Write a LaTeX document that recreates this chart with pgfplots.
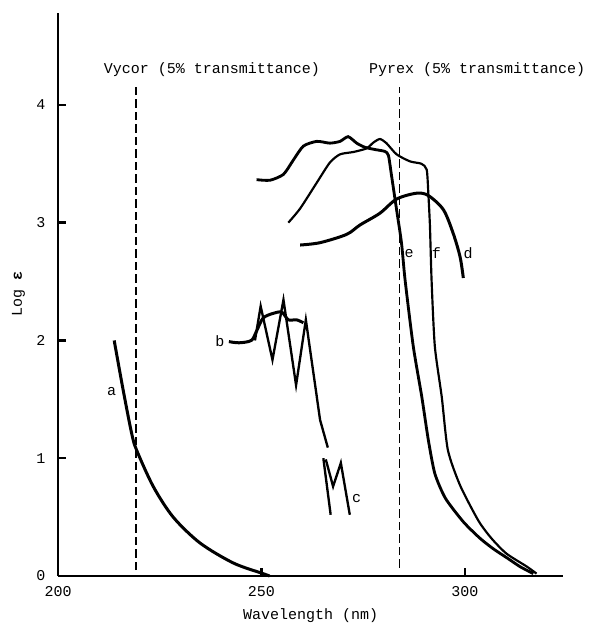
\documentclass[border=0pt]{standalone}
\usepackage{pgfplots}
\pgfplotsset{compat=1.18}
\usepackage{fontspec}
\setmainfont{Liberation Mono}
\begin{document}
\begin{tikzpicture}
\begin{axis}[scale only axis,width=303pt,height=337.8pt,
  xmin=200,xmax=324.1,ymin=0,ymax=4.78,
  axis lines=left,axis line style={-,line width=1.4pt},
  xtick={200,250,300},ytick={0,1,2,3,4},
  tick align=inside,major tick length=5pt,tick style={line width=1.4pt,black},
  font=\fontsize{9}{11}\selectfont,
  yticklabel style={xshift=-4pt},xticklabel style={yshift=-3pt},
  /pgf/number format/assume math mode=true,
  xlabel={Wavelength (nm)},ylabel={Log \textbf{ε}},
  clip=false]
% glass cut-offs
\addplot[line width=0.8pt,dash pattern=on 5pt off 2.5pt] coordinates {(219.2,0.05)(219.2,4.16)};
\addplot[line width=0.8pt,dash pattern=on 5pt off 2.5pt] coordinates {(283.9,0.07)(283.9,4.15)};
\node at (axis cs:237.8,4.30) {Vycor (5\% transmittance)};
\node at (axis cs:303.0,4.30) {Pyrex (5\% transmittance)};
% a
\addplot[line width=1.8pt,smooth] coordinates {(213.8,2.0)(216.0,1.58)(218.1,1.21)(219.3,1.07)(223.4,0.76)(228.3,0.50)(234.9,0.28)(243.1,0.11)(250.4,0.02)(252,0.0)};
% b
\addplot[line width=1.8pt,smooth] coordinates {(242.0,1.99)(244.5,1.98)(247.5,2.0)(248.8,2.08)(250.4,2.19)(252.9,2.23)(255.0,2.24)(256.6,2.175)(258.6,2.175)(260.3,2.15)};
% c
\addplot[line width=1.4pt] coordinates {(248.4,2.0)(249.8,2.29)(252.7,1.835)(255.4,2.345)(258.5,1.62)(260.9,2.175)(264.4,1.325)(266.3,1.09)};
\addplot[line width=1.4pt] coordinates {(265.2,1.0)(267.0,0.52)};
\addplot[line width=1.4pt] coordinates {(265.8,0.99)(267.6,0.76)(269.5,0.96)(271.7,0.52)};
% d
\addplot[line width=1.8pt,smooth] coordinates {(259.5,2.81)(264.4,2.83)(270.9,2.90)(274.2,2.98)(279.1,3.08)(283.2,3.20)(288.1,3.25)(291.0,3.23)(294.7,3.11)(297.1,2.91)(298.8,2.71)(299.6,2.53)};
% e
\addplot[line width=1.7pt,smooth,tension=0.4] coordinates {(248.8,3.365)(252.1,3.36)(255.4,3.41)(257.8,3.53)(260.3,3.65)(263.6,3.69)(266.8,3.675)(269.3,3.69)(271.3,3.73)(273.4,3.675)(275.4,3.64)(278,3.62)(280.3,3.605)(281.2,3.57)(282.0,3.39)(283.2,3.11)(284.4,2.83)(285.3,2.51)(287.3,1.95)(289.4,1.52)(291.0,1.155)(292.6,0.87)(295.2,0.66)(299.6,0.46)(303.7,0.32)(307.0,0.23)(310.5,0.15)(313.5,0.08)(316.8,0.02)};
% f
\addplot[line width=1.3pt,smooth,tension=0.4] coordinates {(256.6,3.0)(259.5,3.12)(263.6,3.34)(266.8,3.51)(269.3,3.58)(272.6,3.60)(275.8,3.63)(277.5,3.68)(279.1,3.71)(280.7,3.675)(283.2,3.58)(286.5,3.52)(289.3,3.50)(290.6,3.45)(291.0,3.25)(291.4,2.97)(291.8,2.51)(292.6,1.95)(294.3,1.52)(295.8,1.07)(298.8,0.77)(303.3,0.47)(306.5,0.32)(310.2,0.19)(315.2,0.08)(317.6,0.02)};
\node at (axis cs:213.2,1.57) {a};
\node at (axis cs:239.8,1.99) {b};
\node at (axis cs:273.4,0.66) {c};
\node at (axis cs:300.8,2.74) {d};
\node at (axis cs:286.3,2.74) {e};
\node at (axis cs:293.0,2.74) {f};
\coordinate (bl) at (rel axis cs:-0.1149,-0.0835);
\coordinate (tr) at (rel axis cs:1.0515,1.0231);
\end{axis}
\pgfresetboundingbox
\path[use as bounding box] (bl) rectangle (tr);
\end{tikzpicture}
\end{document}
